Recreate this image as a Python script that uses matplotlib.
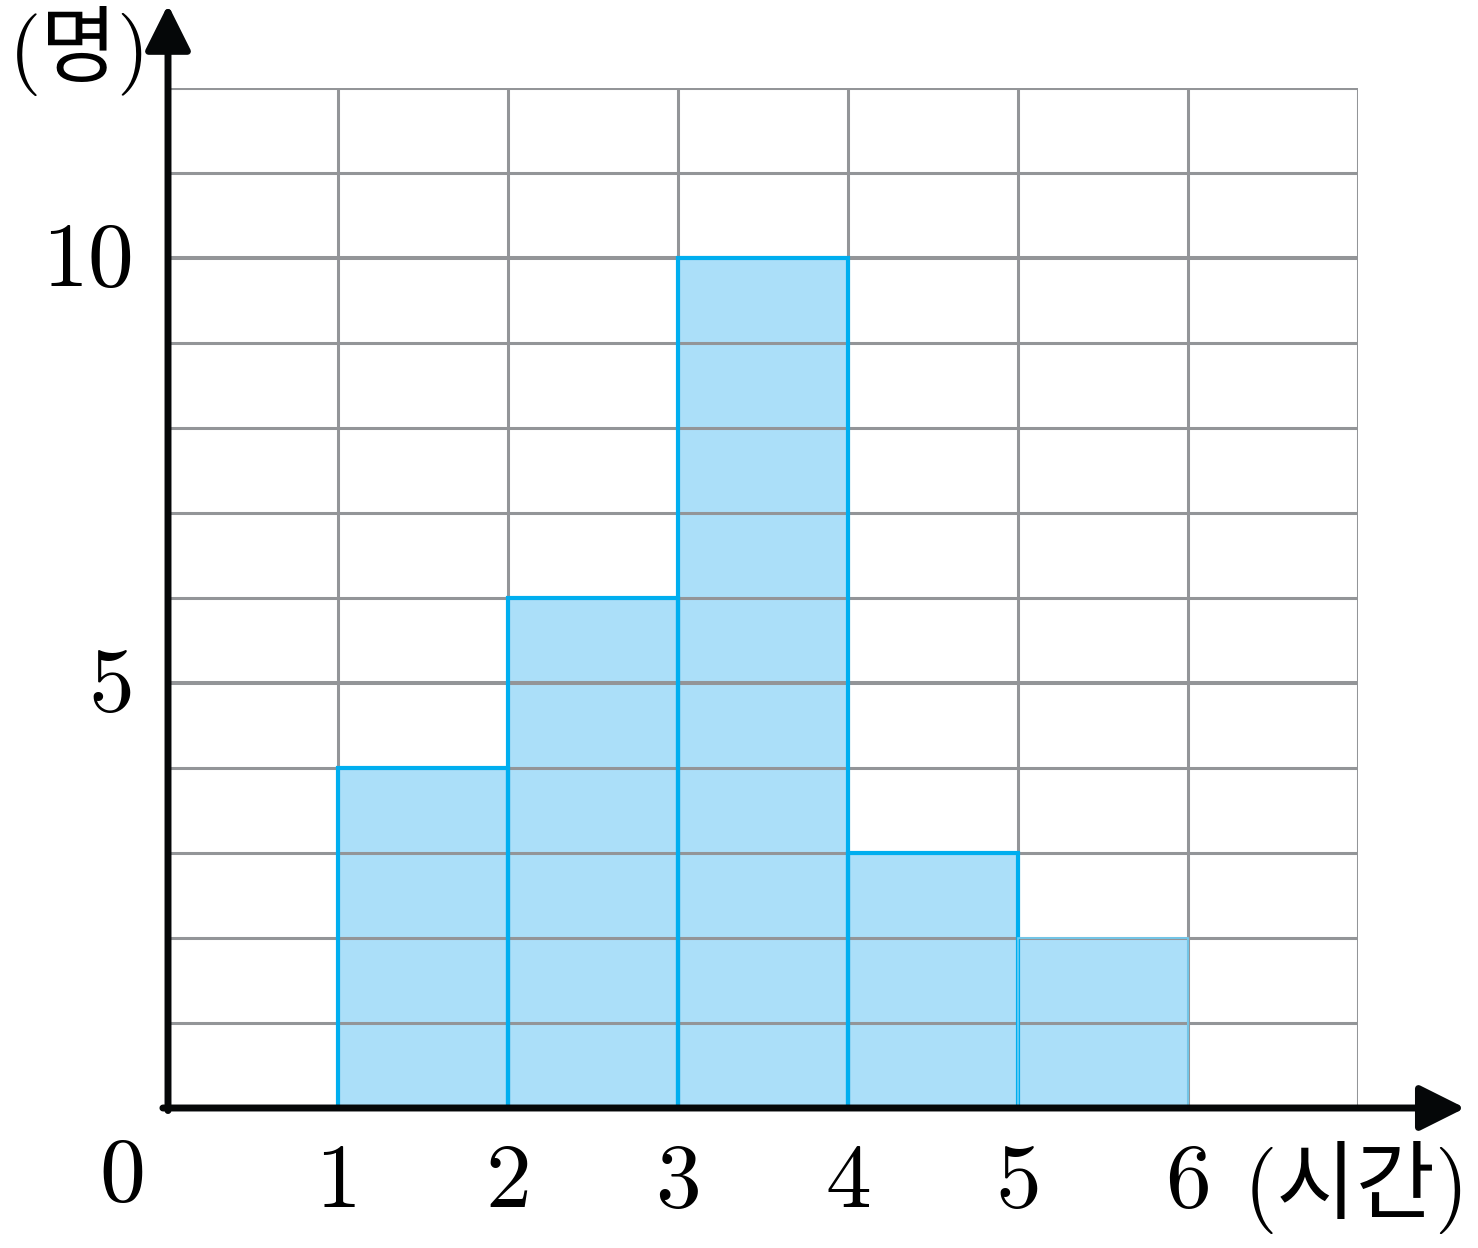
import matplotlib.pyplot as plt

# 데이터
bin_left = [1, 2, 3, 4, 5]
counts = [4, 6, 10, 3, 2]
x_ticks = [1, 2, 3, 4, 5, 6]
y_ticks = [5, 10]

num_font = 'cmr10'
kr_font = ['cmr10', 'Noto Sans CJK KR']

fig = plt.figure(figsize=(14.78, 12.48), dpi=100)
ax = fig.add_axes([168 / 1478, 140 / 1248, 1190 / 1478, 1020 / 1248])
ax.set_xlim(0, 7)
ax.set_ylim(0, 12)
for s in ax.spines.values():
    s.set_visible(False)
ax.set_xticks([])
ax.set_yticks([])

# 막대 채우기
ax.bar(bin_left, counts, width=1, align='edge', color='#abdff9', linewidth=0, zorder=1)

# 격자
for xv in range(1, 8):
    ax.plot([xv, xv], [0, 12], color='#939598', lw=2.2, zorder=2, solid_capstyle='butt')
for yv in range(1, 13):
    lw = 2.9 if yv in y_ticks else 2.2
    ax.plot([0, 7], [yv, yv], color='#939598', lw=lw, zorder=2, solid_capstyle='butt')

# 막대 테두리 (마지막 막대는 얇게)
edge_w = [3, 3, 3, 3, 1.2]
edge_c = ['#00aeef', '#00aeef', '#00aeef', '#00aeef', '#6dcff6']
for i in range(len(counts)):
    ax.bar(bin_left[i], counts[i], width=1, align='edge', fill=False,
           edgecolor=edge_c[i], linewidth=edge_w[i], zorder=3)

# 축 화살표
ax.annotate('', xy=(7.63, 0), xytext=(-0.03, 0), annotation_clip=False,
            arrowprops=dict(arrowstyle='-|>', lw=5, color='#050708',
                            mutation_scale=70, shrinkA=0, shrinkB=0), zorder=5)
ax.annotate('', xy=(0, 12.98), xytext=(0, -0.03), annotation_clip=False,
            arrowprops=dict(arrowstyle='-|>', lw=5, color='#050708',
                            mutation_scale=70, shrinkA=0, shrinkB=0), zorder=5)

# 눈금 글자
for xv in x_ticks:
    ax.text(xv, -0.9, str(xv), ha='center', va='center', fontsize=66, family=num_font)
ax.text(-0.27, -0.82, '0', ha='center', va='center', fontsize=66, family=num_font)
for yv in y_ticks:
    ax.text(-0.2, yv - 0.06, str(yv), ha='right', va='center', fontsize=66, family=num_font)

ax.text(6.99, -0.94, '(시간)', ha='center', va='center', fontsize=62, family=kr_font)
ax.text(-0.52, 12.43, '(명)', ha='center', va='center', fontsize=60, family=kr_font)

fig.savefig('out.png', dpi=100)
